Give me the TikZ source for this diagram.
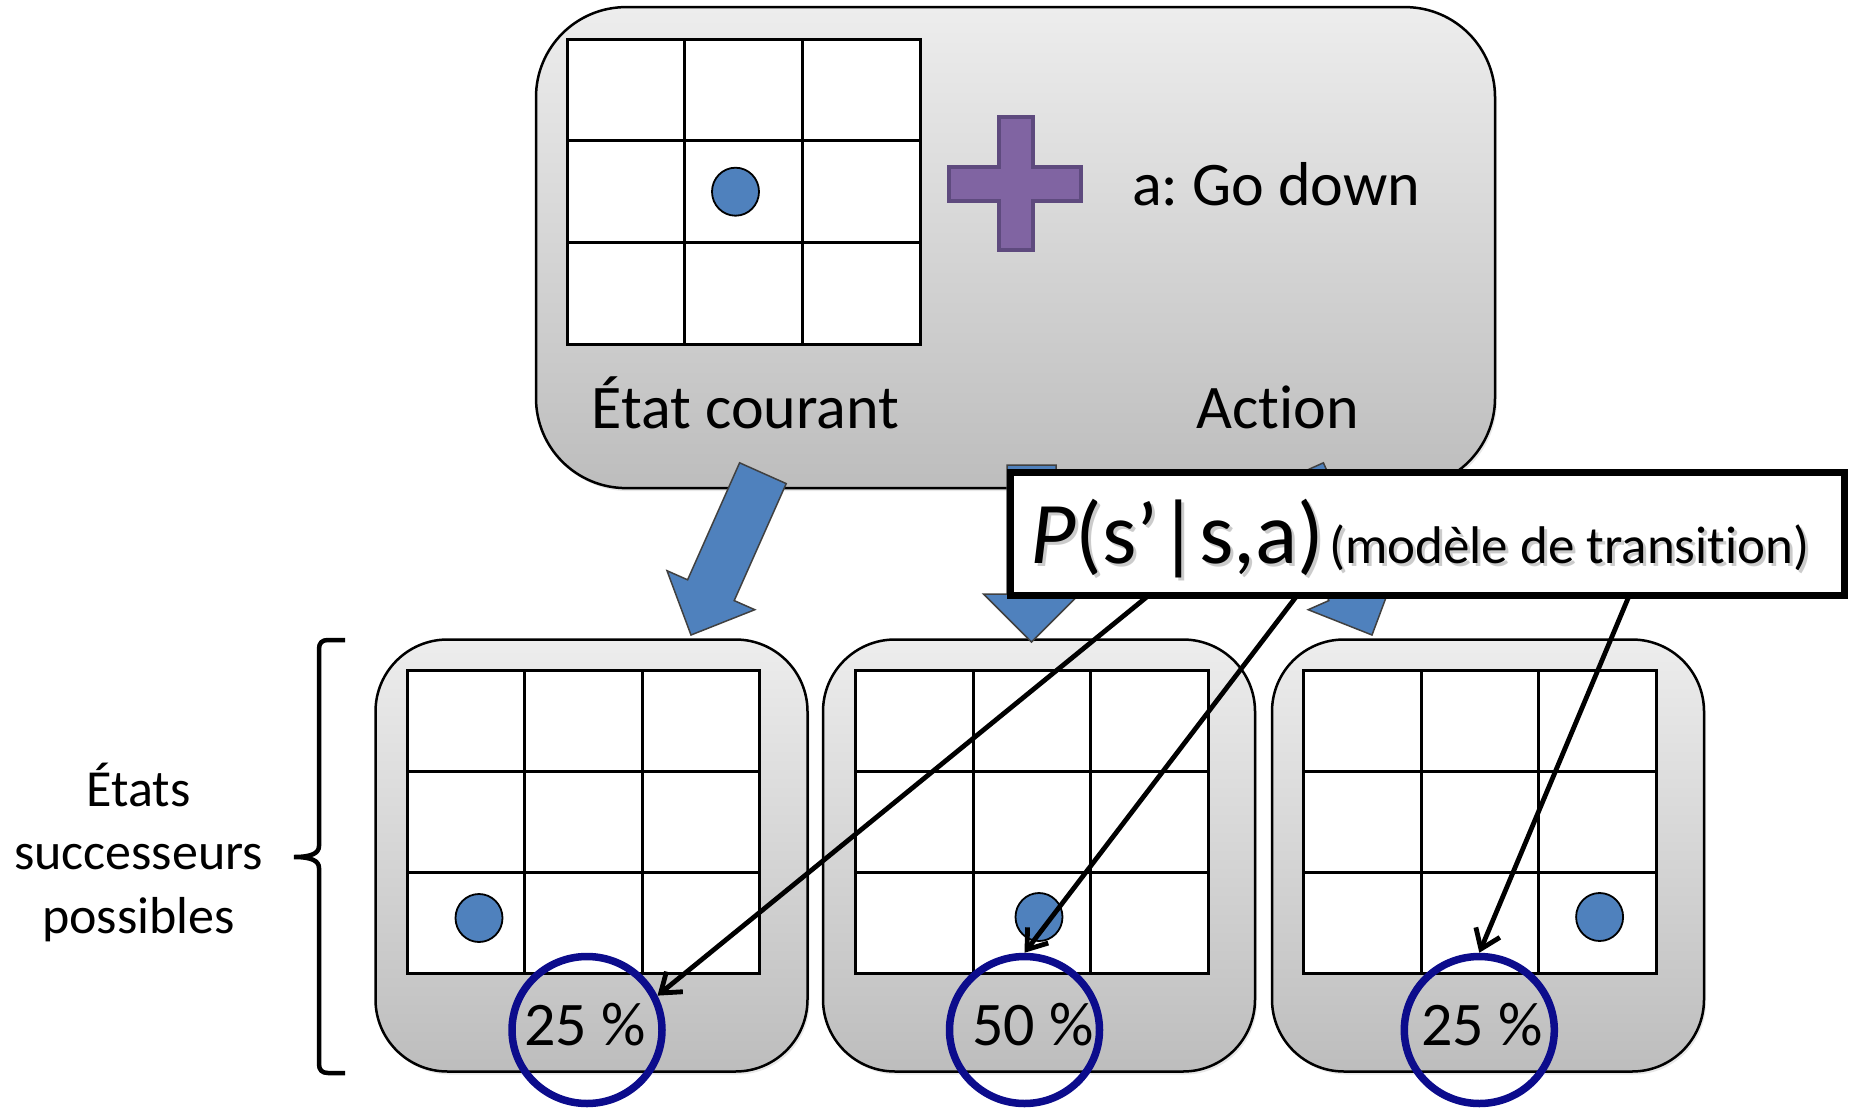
\documentclass[tikz,border=0pt]{standalone}
\usepackage{fontspec}
\setmainfont{Carlito}[Ligatures={TeX,NoCommon}, Contextuals=NoAlternate]
\usetikzlibrary{arrows.meta,shapes.geometric,shadows}

\definecolor{panelTop}{RGB}{237,237,237}
\definecolor{panelBot}{RGB}{189,189,189}
\definecolor{agentBlue}{RGB}{79,129,189}
\definecolor{plusFill}{RGB}{128,100,162}
\definecolor{plusEdge}{RGB}{94,74,126}
\definecolor{ringBlue}{RGB}{12,12,140}

% 3x3 board: left x, top y, cell width, cell height (y grows downwards)
\newcommand{\boardgrid}[4]{%
  \draw[gridline, fill=white] (#1,#2) rectangle ++({3*#3},{3*#4});
  \foreach \k in {1,2} {
    \draw[gridline] ({#1+\k*#3},#2) -- ++(0,{3*#4});
    \draw[gridline] (#1,{#2+\k*#4}) -- ++({3*#3},0);
  }%
}

\begin{document}
\frenchspacing
\begin{tikzpicture}[x=1pt,y=-1pt,
  panel/.style={draw=black, line width=2.5pt, rounded corners=#1,
    top color=panelTop, bottom color=panelBot, inner sep=0pt,
    drop shadow={opacity=0.18, shadow xshift=2pt, shadow yshift=-3pt}},
  gridline/.style={draw=black, line width=3pt},
  agent/.style={ellipse, fill=agentBlue, draw=black, line width=1.8pt,
    minimum width=47pt, minimum height=48pt, inner sep=0pt},
  ring/.style={ellipse, draw=ringBlue, line width=7.5pt,
    minimum width=150pt, minimum height=147pt, inner sep=0pt},
  blockarrow/.style={fill=agentBlue, draw=black!75, line width=1.5pt, line join=miter},
  pointer/.style={draw=black, line width=4.8pt, -{Straight Barb[length=18pt,width=26pt]}},
  bigtext/.style={font=\fontsize{62}{74}\selectfont, inner sep=0pt},
  sidetext/.style={font=\fontsize{52}{63.3}\selectfont, inner sep=0pt, align=center},
]
\useasboundingbox (0,0) rectangle (1850,1108);

% ---- current state + action panel
\node[panel=90pt, minimum width=959pt, minimum height=481pt] (cur) at (1015.5,247.6) {};
\boardgrid{567}{39.3}{117.7}{101.6}
\node[agent] (d0) at (735.5,191.7) {};

% purple plus sign
\draw[fill=plusFill, draw=plusEdge, line width=4pt]
  (999,117) -- (1032.5,117) -- (1032.5,167) -- (1081,167) -- (1081,200.7)
  -- (1032.5,200.7) -- (1032.5,250) -- (999,250) -- (999,200.7) -- (949,200.7)
  -- (949,167) -- (999,167) -- cycle;

\node[bigtext, anchor=base west] (act) at (1132,205) {a: Go down};
\node[bigtext, anchor=base] (curlbl) at (745.5,428) {État courant};
\node[bigtext, anchor=base] (actlbl) at (1278,428) {Act\kern0pt ion};

% ---- successor panels
\node[panel=72pt, minimum width=432pt, minimum height=432pt] (s1) at (591.5,855.5) {};
\node[panel=72pt, minimum width=432pt, minimum height=432pt] (s2) at (1039,855.5) {};
\node[panel=72pt, minimum width=432pt, minimum height=432pt] (s3) at (1488,855.5) {};
\boardgrid{407}{670}{117.5}{101.2}
\boardgrid{855.7}{670}{117.5}{101.2}
\boardgrid{1303.5}{670}{117.5}{101.2}
\node[agent] (d1) at (479,918) {};
\node[agent] (d2) at (1039,917) {};
\node[agent] (d3) at (1599.6,917) {};

% ---- block arrows from the current state to its successors
\draw[blockarrow] (739.6,462.8) -- (786.2,483.6) -- (734.2,600.6) -- (754.8,609.7)
  -- (691,635) -- (667.0,570.7) -- (687.6,579.8) -- cycle;
\draw[blockarrow] (1007,465) -- (1056,465) -- (1056,594) -- (1079.5,594)
  -- (1031.5,642) -- (983.5,594) -- (1007,594) -- cycle;
\draw[blockarrow] (1323.4,462.8) -- (1276.8,483.6) -- (1328.8,600.6) -- (1308.2,609.7)
  -- (1372,635) -- (1396,570.7) -- (1375.4,579.8) -- cycle;

% ---- transition model box
\node[draw=black, line width=7pt, fill=white, minimum width=834pt, minimum height=123pt,
  inner sep=0pt] (pm) at (1427,534) {};
\node[anchor=base west, inner sep=0pt, font=\fontsize{88}{100}\selectfont,
  text=black!40, opacity=0.5] (pfs) at (1033,566) {\textit{P}(s’|s,a)};
\node[anchor=base west, inner sep=0pt, font=\fontsize{53}{64}\selectfont,
  text=black!40, opacity=0.5] (pts) at (1332,566) {(modèle de transit\kern0pt ion)};
\node[anchor=base west, inner sep=0pt, font=\fontsize{88}{100}\selectfont] (pf) at (1030,563) {\textit{P}(s’|s,a)};
\node[anchor=base west, inner sep=0pt, font=\fontsize{53}{64}\selectfont] (pt) at (1329,563) {(modèle de transit\kern0pt ion)};

% ---- probabilities
\node[bigtext, anchor=base] (t1) at (585,1045) {25 \%};
\node[bigtext, anchor=base] (t2) at (1033,1045) {50 \%};
\node[bigtext, anchor=base] (t3) at (1482,1045) {25 \%};
\node[ring] (c1) at (587,1030) {};
\node[ring] (c2) at (1024.5,1030) {};
\node[ring] (c3) at (1479.3,1030) {};

\coordinate (p1) at (1146.7,597);
\coordinate (p2) at (1296.7,596);
\coordinate (p3) at (1629,596);
\draw[pointer] (p1) -- (c1.26);
\draw[pointer] (p2) -- (c2.north);
\draw[pointer] (p3) -- (c3.north);

% ---- successor label with brace (anchor base = last line)
\node[sidetext, anchor=base] (succ) at (138.6,933) {États\\successeurs\\possibles};
\draw[line width=4.5pt]
  (345,640) -- (328,640) .. controls (322,640) and (319,643) .. (319,649)
  -- (319,846) .. controls (319,853) and (312,857) .. (294,857)
  .. controls (312,857) and (319,861) .. (319,868)
  -- (319,1064) .. controls (319,1070) and (322,1073) .. (328,1073) -- (345,1073);
\end{tikzpicture}
\end{document}
